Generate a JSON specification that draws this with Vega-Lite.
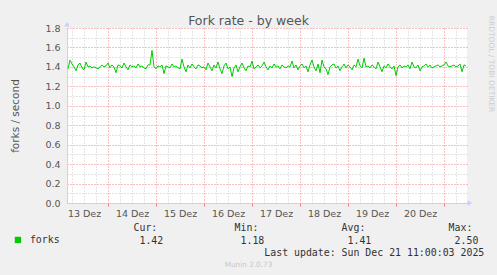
{
  "$schema": "https://vega.github.io/schema/vega-lite/v6.json",
  "width": 400,
  "height": 175,
  "autosize": {"type": "none"},
  "padding": {"left": 67, "top": 28, "right": 30, "bottom": 72},
  "background": "#f0f0f0",
  "config": {
    "view": {"stroke": null, "fill": "#ffffff"},
    "axis": {"labelFont": "DejaVu Sans", "titleFont": "DejaVu Sans", "titleFontWeight": "normal"}
  },
  "data": {"values": [
    {"time": "2025-12-13T04:00", "forks": 1.38}, {"time": "2025-12-13T05:00", "forks": 1.47}, {"time": "2025-12-13T06:00", "forks": 1.43}, {"time": "2025-12-13T07:00", "forks": 1.40},
    {"time": "2025-12-13T08:00", "forks": 1.36}, {"time": "2025-12-13T09:00", "forks": 1.42}, {"time": "2025-12-13T10:00", "forks": 1.44}, {"time": "2025-12-13T11:00", "forks": 1.39},
    {"time": "2025-12-13T12:00", "forks": 1.37}, {"time": "2025-12-13T13:00", "forks": 1.45}, {"time": "2025-12-13T14:00", "forks": 1.40}, {"time": "2025-12-13T15:00", "forks": 1.41},
    {"time": "2025-12-13T16:00", "forks": 1.39}, {"time": "2025-12-13T17:00", "forks": 1.40}, {"time": "2025-12-13T18:00", "forks": 1.39}, {"time": "2025-12-13T19:00", "forks": 1.38},
    {"time": "2025-12-13T20:00", "forks": 1.40}, {"time": "2025-12-13T21:00", "forks": 1.42}, {"time": "2025-12-13T22:00", "forks": 1.40}, {"time": "2025-12-13T23:00", "forks": 1.41},
    {"time": "2025-12-14T00:00", "forks": 1.44}, {"time": "2025-12-14T01:00", "forks": 1.39}, {"time": "2025-12-14T02:00", "forks": 1.42}, {"time": "2025-12-14T03:00", "forks": 1.40},
    {"time": "2025-12-14T04:00", "forks": 1.34}, {"time": "2025-12-14T05:00", "forks": 1.42}, {"time": "2025-12-14T06:00", "forks": 1.41}, {"time": "2025-12-14T07:00", "forks": 1.39},
    {"time": "2025-12-14T08:00", "forks": 1.44}, {"time": "2025-12-14T09:00", "forks": 1.40}, {"time": "2025-12-14T10:00", "forks": 1.37}, {"time": "2025-12-14T11:00", "forks": 1.42},
    {"time": "2025-12-14T12:00", "forks": 1.40}, {"time": "2025-12-14T13:00", "forks": 1.41}, {"time": "2025-12-14T14:00", "forks": 1.39}, {"time": "2025-12-14T15:00", "forks": 1.43},
    {"time": "2025-12-14T16:00", "forks": 1.40}, {"time": "2025-12-14T17:00", "forks": 1.41}, {"time": "2025-12-14T18:00", "forks": 1.39}, {"time": "2025-12-14T19:00", "forks": 1.38},
    {"time": "2025-12-14T20:00", "forks": 1.42}, {"time": "2025-12-14T21:00", "forks": 1.42}, {"time": "2025-12-14T22:00", "forks": 1.57}, {"time": "2025-12-14T23:00", "forks": 1.40},
    {"time": "2025-12-15T00:00", "forks": 1.38}, {"time": "2025-12-15T01:00", "forks": 1.41}, {"time": "2025-12-15T02:00", "forks": 1.40}, {"time": "2025-12-15T03:00", "forks": 1.42},
    {"time": "2025-12-15T04:00", "forks": 1.33}, {"time": "2025-12-15T05:00", "forks": 1.41}, {"time": "2025-12-15T06:00", "forks": 1.40}, {"time": "2025-12-15T07:00", "forks": 1.39},
    {"time": "2025-12-15T08:00", "forks": 1.43}, {"time": "2025-12-15T09:00", "forks": 1.40}, {"time": "2025-12-15T10:00", "forks": 1.41}, {"time": "2025-12-15T11:00", "forks": 1.39},
    {"time": "2025-12-15T12:00", "forks": 1.38}, {"time": "2025-12-15T13:00", "forks": 1.48}, {"time": "2025-12-15T14:00", "forks": 1.40}, {"time": "2025-12-15T15:00", "forks": 1.35},
    {"time": "2025-12-15T16:00", "forks": 1.42}, {"time": "2025-12-15T17:00", "forks": 1.39}, {"time": "2025-12-15T18:00", "forks": 1.43}, {"time": "2025-12-15T19:00", "forks": 1.40},
    {"time": "2025-12-15T20:00", "forks": 1.38}, {"time": "2025-12-15T21:00", "forks": 1.42}, {"time": "2025-12-15T22:00", "forks": 1.41}, {"time": "2025-12-15T23:00", "forks": 1.39},
    {"time": "2025-12-16T00:00", "forks": 1.40}, {"time": "2025-12-16T01:00", "forks": 1.37}, {"time": "2025-12-16T02:00", "forks": 1.44}, {"time": "2025-12-16T03:00", "forks": 1.40},
    {"time": "2025-12-16T04:00", "forks": 1.36}, {"time": "2025-12-16T05:00", "forks": 1.42}, {"time": "2025-12-16T06:00", "forks": 1.39}, {"time": "2025-12-16T07:00", "forks": 1.45},
    {"time": "2025-12-16T08:00", "forks": 1.38}, {"time": "2025-12-16T09:00", "forks": 1.33}, {"time": "2025-12-16T10:00", "forks": 1.41}, {"time": "2025-12-16T11:00", "forks": 1.44},
    {"time": "2025-12-16T12:00", "forks": 1.38}, {"time": "2025-12-16T13:00", "forks": 1.40}, {"time": "2025-12-16T14:00", "forks": 1.30}, {"time": "2025-12-16T15:00", "forks": 1.39},
    {"time": "2025-12-16T16:00", "forks": 1.42}, {"time": "2025-12-16T17:00", "forks": 1.35}, {"time": "2025-12-16T18:00", "forks": 1.40}, {"time": "2025-12-16T19:00", "forks": 1.44},
    {"time": "2025-12-16T20:00", "forks": 1.39}, {"time": "2025-12-16T21:00", "forks": 1.36}, {"time": "2025-12-16T22:00", "forks": 1.41}, {"time": "2025-12-16T23:00", "forks": 1.40},
    {"time": "2025-12-17T00:00", "forks": 1.46}, {"time": "2025-12-17T01:00", "forks": 1.38}, {"time": "2025-12-17T02:00", "forks": 1.40}, {"time": "2025-12-17T03:00", "forks": 1.42},
    {"time": "2025-12-17T04:00", "forks": 1.39}, {"time": "2025-12-17T05:00", "forks": 1.41}, {"time": "2025-12-17T06:00", "forks": 1.45}, {"time": "2025-12-17T07:00", "forks": 1.40},
    {"time": "2025-12-17T08:00", "forks": 1.37}, {"time": "2025-12-17T09:00", "forks": 1.41}, {"time": "2025-12-17T10:00", "forks": 1.39}, {"time": "2025-12-17T11:00", "forks": 1.43},
    {"time": "2025-12-17T12:00", "forks": 1.40}, {"time": "2025-12-17T13:00", "forks": 1.41}, {"time": "2025-12-17T14:00", "forks": 1.38}, {"time": "2025-12-17T15:00", "forks": 1.42},
    {"time": "2025-12-17T16:00", "forks": 1.40}, {"time": "2025-12-17T17:00", "forks": 1.39}, {"time": "2025-12-17T18:00", "forks": 1.41}, {"time": "2025-12-17T19:00", "forks": 1.40},
    {"time": "2025-12-17T20:00", "forks": 1.46}, {"time": "2025-12-17T21:00", "forks": 1.39}, {"time": "2025-12-17T22:00", "forks": 1.42}, {"time": "2025-12-17T23:00", "forks": 1.37},
    {"time": "2025-12-18T00:00", "forks": 1.41}, {"time": "2025-12-18T01:00", "forks": 1.43}, {"time": "2025-12-18T02:00", "forks": 1.39}, {"time": "2025-12-18T03:00", "forks": 1.41},
    {"time": "2025-12-18T04:00", "forks": 1.35}, {"time": "2025-12-18T05:00", "forks": 1.42}, {"time": "2025-12-18T06:00", "forks": 1.47}, {"time": "2025-12-18T07:00", "forks": 1.40},
    {"time": "2025-12-18T08:00", "forks": 1.36}, {"time": "2025-12-18T09:00", "forks": 1.43}, {"time": "2025-12-18T10:00", "forks": 1.34}, {"time": "2025-12-18T11:00", "forks": 1.47},
    {"time": "2025-12-18T12:00", "forks": 1.40}, {"time": "2025-12-18T13:00", "forks": 1.38}, {"time": "2025-12-18T14:00", "forks": 1.32}, {"time": "2025-12-18T15:00", "forks": 1.40},
    {"time": "2025-12-18T16:00", "forks": 1.42}, {"time": "2025-12-18T17:00", "forks": 1.43}, {"time": "2025-12-18T18:00", "forks": 1.39}, {"time": "2025-12-18T19:00", "forks": 1.41},
    {"time": "2025-12-18T20:00", "forks": 1.36}, {"time": "2025-12-18T21:00", "forks": 1.40}, {"time": "2025-12-18T22:00", "forks": 1.43}, {"time": "2025-12-18T23:00", "forks": 1.39},
    {"time": "2025-12-19T00:00", "forks": 1.42}, {"time": "2025-12-19T01:00", "forks": 1.40}, {"time": "2025-12-19T02:00", "forks": 1.37}, {"time": "2025-12-19T03:00", "forks": 1.42},
    {"time": "2025-12-19T04:00", "forks": 1.40}, {"time": "2025-12-19T05:00", "forks": 1.48}, {"time": "2025-12-19T06:00", "forks": 1.41}, {"time": "2025-12-19T07:00", "forks": 1.39},
    {"time": "2025-12-19T08:00", "forks": 1.49}, {"time": "2025-12-19T09:00", "forks": 1.40}, {"time": "2025-12-19T10:00", "forks": 1.41}, {"time": "2025-12-19T11:00", "forks": 1.39},
    {"time": "2025-12-19T12:00", "forks": 1.42}, {"time": "2025-12-19T13:00", "forks": 1.40}, {"time": "2025-12-19T14:00", "forks": 1.38}, {"time": "2025-12-19T15:00", "forks": 1.45},
    {"time": "2025-12-19T16:00", "forks": 1.40}, {"time": "2025-12-19T17:00", "forks": 1.35}, {"time": "2025-12-19T18:00", "forks": 1.41}, {"time": "2025-12-19T19:00", "forks": 1.39},
    {"time": "2025-12-19T20:00", "forks": 1.43}, {"time": "2025-12-19T21:00", "forks": 1.40}, {"time": "2025-12-19T22:00", "forks": 1.38}, {"time": "2025-12-19T23:00", "forks": 1.41},
    {"time": "2025-12-20T00:00", "forks": 1.31}, {"time": "2025-12-20T01:00", "forks": 1.40}, {"time": "2025-12-20T02:00", "forks": 1.42}, {"time": "2025-12-20T03:00", "forks": 1.39},
    {"time": "2025-12-20T04:00", "forks": 1.41}, {"time": "2025-12-20T05:00", "forks": 1.40}, {"time": "2025-12-20T06:00", "forks": 1.42}, {"time": "2025-12-20T07:00", "forks": 1.38},
    {"time": "2025-12-20T08:00", "forks": 1.45}, {"time": "2025-12-20T09:00", "forks": 1.40}, {"time": "2025-12-20T10:00", "forks": 1.39}, {"time": "2025-12-20T11:00", "forks": 1.42},
    {"time": "2025-12-20T12:00", "forks": 1.36}, {"time": "2025-12-20T13:00", "forks": 1.40}, {"time": "2025-12-20T14:00", "forks": 1.41}, {"time": "2025-12-20T15:00", "forks": 1.43},
    {"time": "2025-12-20T16:00", "forks": 1.40}, {"time": "2025-12-20T17:00", "forks": 1.42}, {"time": "2025-12-20T18:00", "forks": 1.39}, {"time": "2025-12-20T19:00", "forks": 1.40},
    {"time": "2025-12-20T20:00", "forks": 1.41}, {"time": "2025-12-20T21:00", "forks": 1.42}, {"time": "2025-12-20T22:00", "forks": 1.40}, {"time": "2025-12-20T23:00", "forks": 1.41},
    {"time": "2025-12-21T00:00", "forks": 1.42}, {"time": "2025-12-21T01:00", "forks": 1.45}, {"time": "2025-12-21T02:00", "forks": 1.41}, {"time": "2025-12-21T03:00", "forks": 1.40},
    {"time": "2025-12-21T04:00", "forks": 1.41}, {"time": "2025-12-21T05:00", "forks": 1.42}, {"time": "2025-12-21T06:00", "forks": 1.40}, {"time": "2025-12-21T07:00", "forks": 1.41},
    {"time": "2025-12-21T08:00", "forks": 1.43}, {"time": "2025-12-21T09:00", "forks": 1.35}, {"time": "2025-12-21T10:00", "forks": 1.42}, {"time": "2025-12-21T11:00", "forks": 1.41}
  ]},
  "resolve": {"axis": {"x": "independent", "y": "independent"}},
  "layer": [
    {
      "mark": {"type": "line", "strokeOpacity": 0},
      "encoding": {
        "x": {"field": "time", "type": "temporal",
          "scale": {"type": "time", "domain": [{"year": 2025, "month": 12, "date": 13, "hours": 3, "minutes": 30}, {"year": 2025, "month": 12, "date": 21, "hours": 11, "minutes": 30}], "nice": false},
          "axis": {"orient": "bottom", "title": null, "labels": false, "ticks": false, "domain": false, "grid": true,
            "values": [
              {"year": 2025, "month": 12, "date": 13, "hours": 6}, {"year": 2025, "month": 12, "date": 13, "hours": 12}, {"year": 2025, "month": 12, "date": 13, "hours": 18},
              {"year": 2025, "month": 12, "date": 14, "hours": 6}, {"year": 2025, "month": 12, "date": 14, "hours": 12}, {"year": 2025, "month": 12, "date": 14, "hours": 18},
              {"year": 2025, "month": 12, "date": 15, "hours": 6}, {"year": 2025, "month": 12, "date": 15, "hours": 12}, {"year": 2025, "month": 12, "date": 15, "hours": 18},
              {"year": 2025, "month": 12, "date": 16, "hours": 6}, {"year": 2025, "month": 12, "date": 16, "hours": 12}, {"year": 2025, "month": 12, "date": 16, "hours": 18},
              {"year": 2025, "month": 12, "date": 17, "hours": 6}, {"year": 2025, "month": 12, "date": 17, "hours": 12}, {"year": 2025, "month": 12, "date": 17, "hours": 18},
              {"year": 2025, "month": 12, "date": 18, "hours": 6}, {"year": 2025, "month": 12, "date": 18, "hours": 12}, {"year": 2025, "month": 12, "date": 18, "hours": 18},
              {"year": 2025, "month": 12, "date": 19, "hours": 6}, {"year": 2025, "month": 12, "date": 19, "hours": 12}, {"year": 2025, "month": 12, "date": 19, "hours": 18},
              {"year": 2025, "month": 12, "date": 20, "hours": 6}, {"year": 2025, "month": 12, "date": 20, "hours": 12}, {"year": 2025, "month": 12, "date": 20, "hours": 18},
              {"year": 2025, "month": 12, "date": 21, "hours": 6}],
            "gridColor": "#c8c8c8", "gridDash": [1, 2], "gridWidth": 1}},
        "y": {"field": "forks", "type": "quantitative",
          "scale": {"domain": [0, 1.8], "nice": false, "zero": true},
          "axis": {"orient": "left", "title": null, "labels": false, "ticks": false, "domain": false, "grid": true,
            "values": [0.1, 0.3, 0.5, 0.7, 0.9, 1.1, 1.3, 1.5, 1.7], "gridColor": "#c8c8c8", "gridDash": [1, 2]}}
      }
    },
    {
      "mark": {"type": "line", "strokeOpacity": 0},
      "encoding": {
        "x": {"field": "time", "type": "temporal",
          "axis": {"orient": "bottom", "labels": false, "ticks": true, "tickSize": 3, "tickColor": "#f08080", "domain": false, "grid": true,
            "values": [
              {"year": 2025, "month": 12, "date": 14}, {"year": 2025, "month": 12, "date": 15}, {"year": 2025, "month": 12, "date": 16}, {"year": 2025, "month": 12, "date": 17},
              {"year": 2025, "month": 12, "date": 18}, {"year": 2025, "month": 12, "date": 19}, {"year": 2025, "month": 12, "date": 20}, {"year": 2025, "month": 12, "date": 21}],
            "gridColor": "#f08080", "gridDash": [1, 2],
            "title": "Munin 2.0.73", "titleFont": "DejaVu Sans", "titleFontSize": 7.3, "titleColor": "#c8c8c8",
            "titleX": 181, "titleY": 61, "titleAlign": "center", "titleBaseline": "middle"}},
        "y": {"field": "forks", "type": "quantitative",
          "axis": {"orient": "left", "values": [0, 0.2, 0.4, 0.6, 0.8, 1.0, 1.2, 1.4, 1.6, 1.8], "format": ".1f",
            "grid": true, "gridColor": "#f08080", "gridDash": [1, 2], "ticks": false, "labelPadding": 7,
            "labelFontSize": 9.5, "labelColor": "#555555", "domain": true, "domainColor": "#ccccff",
            "title": "forks / second", "titleFontSize": 10.5, "titleColor": "#555555", "titleAngle": -90,
            "titleX": -52, "titleY": 87.5, "titleAlign": "center", "titleBaseline": "middle"}}
      }
    },
    {
      "mark": {"type": "line", "strokeOpacity": 0},
      "encoding": {
        "x": {"field": "time", "type": "temporal",
          "axis": {"orient": "top", "labels": false, "ticks": false, "domain": false, "grid": false,
            "title": "Fork rate - by week", "titleFontSize": 12.5, "titleColor": "#555555",
            "titleX": 181, "titleY": -4, "titleAlign": "center", "titleBaseline": "alphabetic"}},
        "y": {"field": "forks", "type": "quantitative",
          "axis": {"orient": "right", "labels": false, "ticks": false, "domain": false, "grid": false,
            "title": "RRDTOOL / TOBI OETIKER", "titleFontSize": 7.5, "titleColor": "#cccccc", "titleAngle": 90,
            "titleX": 23, "titleY": 35.5, "titleAlign": "center", "titleBaseline": "middle"}}
      }
    },
    {
      "mark": {"type": "line", "color": "#00cc00", "strokeWidth": 1},
      "encoding": {
        "x": {"field": "time", "type": "temporal",
          "axis": {"orient": "bottom", "grid": false, "ticks": false, "domain": true, "domainColor": "#ccccff",
            "values": [
              {"year": 2025, "month": 12, "date": 13, "hours": 12}, {"year": 2025, "month": 12, "date": 14, "hours": 12},
              {"year": 2025, "month": 12, "date": 15, "hours": 12}, {"year": 2025, "month": 12, "date": 16, "hours": 12},
              {"year": 2025, "month": 12, "date": 17, "hours": 12}, {"year": 2025, "month": 12, "date": 18, "hours": 12},
              {"year": 2025, "month": 12, "date": 19, "hours": 12}, {"year": 2025, "month": 12, "date": 20, "hours": 12}],
            "labelExpr": "timeFormat(datum.value, '%d') + ' Dez'", "labelFontSize": 9.5, "labelColor": "#555555", "labelPadding": 5,
            "title": [
              "\u200bCur:\u00a0\u00a0\u00a0\u00a0\u00a0\u00a0\u00a0\u00a0\u00a0\u00a0\u00a0\u00a0\u00a0Min:\u00a0\u00a0\u00a0\u00a0\u00a0\u00a0\u00a0\u00a0\u00a0\u00a0\u00a0\u00a0\u00a0\u00a0Avg:\u00a0\u00a0\u00a0\u00a0\u00a0\u00a0\u00a0\u00a0\u00a0\u00a0\u00a0\u00a0\u00a0\u00a0Max:",
              "\u200b\u00a01.42\u00a0\u00a0\u00a0\u00a0\u00a0\u00a0\u00a0\u00a0\u00a0\u00a0\u00a0\u00a0\u00a01.18\u00a0\u00a0\u00a0\u00a0\u00a0\u00a0\u00a0\u00a0\u00a0\u00a0\u00a0\u00a0\u00a0\u00a01.41\u00a0\u00a0\u00a0\u00a0\u00a0\u00a0\u00a0\u00a0\u00a0\u00a0\u00a0\u00a0\u00a0\u00a02.50",
              "\u200b\u00a0\u00a0\u00a0\u00a0\u00a0\u00a0\u00a0\u00a0\u00a0\u00a0\u00a0\u00a0\u00a0\u00a0\u00a0\u00a0\u00a0\u00a0\u00a0\u00a0\u00a0\u00a0Last update: Sun Dec 21 11:00:03 2025"],
            "titleFont": "DejaVu Sans Mono", "titleFontSize": 9.9, "titleColor": "#333333", "titleLineHeight": 12.5,
            "titleX": 66, "titleY": 27.5, "titleAlign": "left", "titleBaseline": "alphabetic"}},
        "y": {"field": "forks", "type": "quantitative", "axis": null},
        "color": {"datum": "forks", "type": "nominal", "scale": {"range": ["#00cc00"]},
          "legend": {"orient": "none", "legendX": -54, "legendY": 207, "title": null, "padding": 0,
            "symbolType": "square", "symbolSize": 40, "labelOffset": 7, "symbolFillColor": "#00cc00", "symbolStrokeWidth": 0,
            "labelFont": "DejaVu Sans Mono", "labelFontSize": 9.9, "labelColor": "#333333"}}
      }
    },
    {
      "data": {"values": [{}]},
      "mark": {"type": "point", "shape": "triangle-right", "filled": true, "color": "#ccccff", "size": 30, "opacity": 1},
      "encoding": {
        "x": {"datum": {"year": 2025, "month": 12, "date": 21, "hours": 13}, "type": "temporal", "axis": null},
        "y": {"datum": 0, "type": "quantitative", "axis": null}
      }
    },
    {
      "data": {"values": [{}]},
      "mark": {"type": "point", "shape": "triangle-up", "filled": true, "color": "#ccccff", "size": 30, "opacity": 1},
      "encoding": {
        "x": {"datum": {"year": 2025, "month": 12, "date": 13, "hours": 3, "minutes": 30}, "type": "temporal", "axis": null},
        "y": {"datum": 1.84, "type": "quantitative", "axis": null}
      }
    }
  ]
}
